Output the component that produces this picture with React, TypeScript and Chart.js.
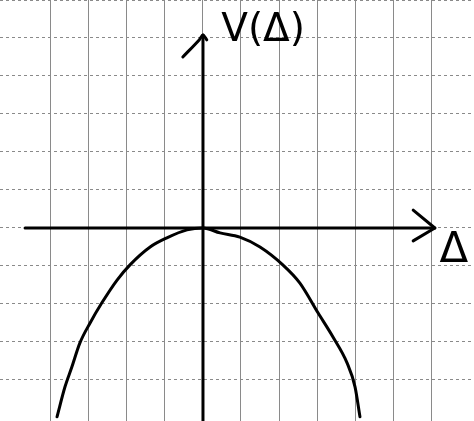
import React, { useEffect, useRef } from "react";
import { Chart, registerables } from "chart.js";

Chart.register(...registerables);

// Curve V(Δ) in grid units (one grid square = 1)
const curveX = [-3.84, -3.63, -3.45, -3.24, -2.97, -2.66, -2.26, -1.92, -1.39, -0.95, -0.42, 0, 0.45, 0.97, 1.5, 2.1, 2.55, 3.03, 3.42, 3.79, 4.0, 4.13];
const curveY = [-4.97, -4.18, -3.66, -3.03, -2.5, -1.97, -1.37, -0.97, -0.5, -0.26, -0.05, 0, -0.13, -0.24, -0.5, -0.97, -1.45, -2.24, -2.87, -3.55, -4.18, -4.97];

// Axis lines with arrowheads
const xAxisX = [-4.68, 6.1];
const xAxisY = [0, 0];
const xArrowX = [5.53, 6.1, 5.53];
const xArrowY = [0.47, 0, -0.34];
const yAxisX = [0, 0];
const yAxisY = [-5.2, 5.08];
const yArrowX = [-0.53, -0.1, 0, 0.1];
const yArrowY = [4.5, 4.95, 5.08, 4.95];

const labelTexts = ["V(Δ)", "Δ"];

const zip = (xs: number[], ys: number[]) => xs.map((x, i) => ({ x, y: ys[i] }));

export default function App() {
  const ref = useRef<HTMLCanvasElement | null>(null);

  useEffect(() => {
    document.body.style.margin = "0";
    const canvas = ref.current;
    if (!canvas) return;

    const labelPlugin = {
      id: "sketchLabels",
      afterDatasetsDraw(chart: any) {
        const { ctx, scales } = chart;
        const anchors = [
          { x: 0.48, y: 4.92, size: 39 },
          { x: 6.22, y: -0.9, size: 42 },
        ];
        ctx.save();
        ctx.fillStyle = "#000";
        ctx.textBaseline = "alphabetic";
        ctx.textAlign = "left";
        labelTexts.forEach((t, i) => {
          const a = anchors[i];
          ctx.font = `${a.size}px "DejaVu Sans"`;
          ctx.fillText(t, scales.x.getPixelForValue(a.x), scales.y.getPixelForValue(a.y));
        });
        ctx.restore();
      },
    };

    const lineDs = (data: { x: number; y: number }[], width: number, tension = 0, mono = false) => ({
      data,
      showLine: true,
      borderColor: "#000",
      borderWidth: width,
      pointRadius: 0,
      tension,
      cubicInterpolationMode: mono ? ("monotone" as const) : ("default" as const),
      fill: false,
      borderCapStyle: "round" as const,
      borderJoinStyle: "round" as const,
    });

    const gridColor = (c: any) =>
      c.tick && Number.isInteger(Math.round(c.tick.value * 1000) / 1000) ? "#8a8a8a" : "rgba(0,0,0,0)";

    const chart = new Chart(canvas, {
      type: "scatter",
      data: {
        datasets: [
          lineDs(zip(curveX, curveY), 3, 0.4, true),
          lineDs(zip(xAxisX, xAxisY), 3),
          lineDs(zip(xArrowX, xArrowY), 3),
          lineDs(zip(yAxisX, yAxisY), 3),
          lineDs(zip(yArrowX, yArrowY), 3, 0.3),
        ],
      },
      options: {
        animation: false,
        responsive: false,
        maintainAspectRatio: false,
        layout: { padding: 0 },
        plugins: { legend: { display: false }, tooltip: { enabled: false }, title: { display: false } },
        scales: {
          x: {
            type: "linear",
            min: -5.34,
            max: 7.13,
            ticks: { display: false, stepSize: 1 },
            grid: { color: gridColor, lineWidth: 1, drawTicks: false },
            border: { display: false },
          },
          y: {
            type: "linear",
            min: -5.08,
            max: 6.0,
            ticks: { display: false, stepSize: 1 },
            grid: { color: gridColor, lineWidth: 1, drawTicks: false },
            border: { display: false, dash: [3, 3] },
          },
        },
      },
      plugins: [labelPlugin],
    });

    return () => chart.destroy();
  }, []);

  return (
    <div style={{ position: "absolute", left: 0, top: 0, width: 474, height: 421, background: "#fff" }}>
      <canvas ref={ref} width={474} height={421} style={{ width: 474, height: 421 }} />
    </div>
  );
}
